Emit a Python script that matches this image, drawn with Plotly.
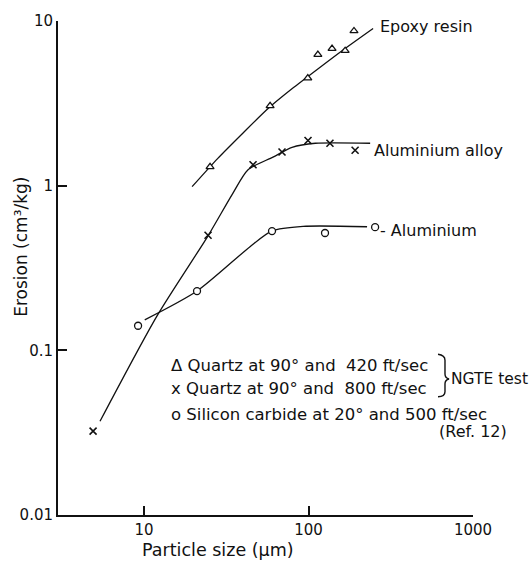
import plotly.graph_objects as go

# Measured points: particle size (um) vs erosion (cm3/kg)
epoxy_x = [25.2, 58.4, 99, 114, 139, 167, 189]
epoxy_y = [1.30, 3.05, 4.5, 6.25, 6.8, 6.6, 8.7]

alloy_x = [4.9, 24.5, 46, 69, 99.3, 135, 192]
alloy_y = [0.0323, 0.50, 1.34, 1.60, 1.88, 1.81, 1.64]

alum_x = [9.2, 21, 60, 126, 254]
alum_y = [0.141, 0.229, 0.53, 0.516, 0.56]

# Hand-drawn trend curves through the data
epoxy_fit_x = [19.6, 28, 40, 57, 80, 115, 160, 247]
epoxy_fit_y = [0.986, 1.46, 2.09, 2.95, 3.9, 5.15, 6.6, 9.0]

alloy_fit_x = [5.4, 12.0, 24.5, 34.3, 42.9, 60.8, 79.4, 110, 237]
alloy_fit_y = [0.0371, 0.162, 0.496, 0.883, 1.25, 1.49, 1.71, 1.81, 1.81]

alum_fit_x = [10.1, 21.0, 44.1, 60, 92.7, 227]
alum_fit_y = [0.153, 0.229, 0.426, 0.531, 0.566, 0.563]

x_ticks = [10, 100, 1000]
x_tick_text = ["10", "100", "1000"]
y_ticks = [0.01, 0.1, 1, 10]
y_tick_text = ["0.01", "0.1", "1", "10"]

FONT = "DejaVu Sans"
INK = "#111111"

# plot-area geometry in pixels
L, T, W, H = 58, 14, 415, 501


def paper(px, py):
    return (px - L) / W, (T + H - py) / H


fig = go.Figure()

line_style = dict(color=INK, width=1.3, shape="spline", smoothing=0.7)
for fx, fy in [(epoxy_fit_x, epoxy_fit_y), (alloy_fit_x, alloy_fit_y), (alum_fit_x, alum_fit_y)]:
    fig.add_trace(go.Scatter(x=fx, y=fy, mode="lines", line=line_style,
                             hoverinfo="skip", showlegend=False))

fig.add_trace(go.Scatter(x=epoxy_x, y=epoxy_y, mode="markers", showlegend=False,
                         marker=dict(symbol="triangle-up", size=7, color="white",
                                     line=dict(color=INK, width=1.3))))
fig.add_trace(go.Scatter(x=alloy_x, y=alloy_y, mode="markers", showlegend=False,
                         marker=dict(symbol="x-thin", size=7,
                                     line=dict(color=INK, width=1.6))))
fig.add_trace(go.Scatter(x=alum_x, y=alum_y, mode="markers", showlegend=False,
                         marker=dict(symbol="circle", size=7, color="white",
                                     line=dict(color=INK, width=1.3))))

annotations = []


def label(text, px, py, size=16, xanchor="left", textangle=0):
    x, y = paper(px, py)
    annotations.append(dict(text=text, x=x, y=y, xref="paper", yref="paper",
                            xanchor=xanchor, yanchor="middle", showarrow=False,
                            textangle=textangle,
                            font=dict(family=FONT, size=size, color=INK)))


label("Epoxy resin", 378, 20)
label("Aluminium alloy", 372, 145)
label("- Aluminium", 378, 226)

label("\u0394 Quartz at 90\u00b0 and  420 ft/sec", 169, 363, size=16.5)
label("x Quartz at 90\u00b0 and  800 ft/sec", 169, 387, size=16.5)
label("o Silicon carbide at 20\u00b0 and 500 ft/sec", 169, 413, size=16.5)
label("(Ref. 12)", 509, 430, size=16, xanchor="right")
label("NGTE test", 449, 377, size=15.5)

label("Particle size (\u03bcm)", 218, 551, size=17.5, xanchor="center")
label("Erosion (cm\u00b3/kg)", 21, 243, size=17, xanchor="center", textangle=-90)

# curly brace grouping the two NGTE rows
pts = {k: paper(*v) for k, v in {
    "a": (438, 352), "b": (445, 353), "c": (445, 358), "d": (445, 372),
    "e": (445, 376), "f": (449, 377), "g": (445, 378), "h": (445, 382),
    "i": (445, 390), "j": (445, 395), "k": (438, 395)}.items()}


def p(k):
    return f"{pts[k][0]:.4f},{pts[k][1]:.4f}"


brace = (f"M{p('a')} Q{p('b')} {p('c')} L{p('d')} Q{p('e')} {p('f')} "
         f"Q{p('g')} {p('h')} L{p('i')} Q{p('j')} {p('k')}")

fig.update_layout(
    width=532, height=563,
    margin=dict(l=L, r=532 - L - W, t=T, b=563 - T - H),
    paper_bgcolor="white", plot_bgcolor="white",
    annotations=annotations,
    shapes=[dict(type="path", path=brace, xref="paper", yref="paper",
                 line=dict(color=INK, width=1.4))],
    font=dict(family=FONT, size=15, color=INK),
)
fig.update_xaxes(type="log", range=[0.477, 3.0], tickvals=x_ticks, ticktext=x_tick_text,
                 showline=True, linecolor=INK, linewidth=2, ticks="inside", ticklen=9,
                 tickwidth=1.5, tickcolor=INK, showgrid=False, zeroline=False,
                 tickfont=dict(family=FONT, size=15, color=INK))
fig.update_yaxes(type="log", range=[-2, 1], tickvals=y_ticks, ticktext=y_tick_text,
                 showline=True, linecolor=INK, linewidth=2, ticks="inside", ticklen=9,
                 tickwidth=1.5, tickcolor=INK, showgrid=False, zeroline=False,
                 tickfont=dict(family=FONT, size=15, color=INK))

fig.write_html("out.html")
